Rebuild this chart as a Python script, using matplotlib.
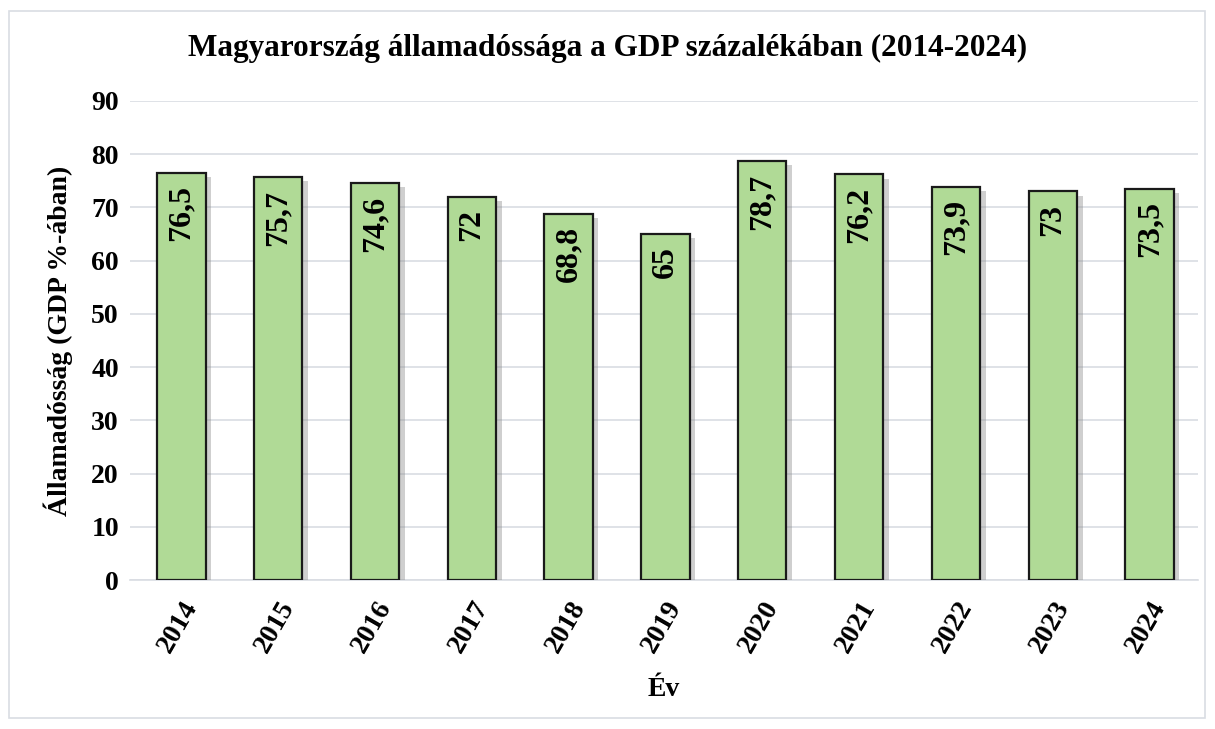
import matplotlib
matplotlib.use("Agg")
import matplotlib.pyplot as plt
import matplotlib.patheffects as pe
from matplotlib.patches import Rectangle

years = ["2014", "2015", "2016", "2017", "2018", "2019", "2020", "2021", "2022", "2023", "2024"]
values = [76.5, 75.7, 74.6, 72, 68.8, 65, 78.7, 76.2, 73.9, 73, 73.5]
value_labels = ["76,5", "75,7", "74,6", "72", "68,8", "65", "78,7", "76,2", "73,9", "73", "73,5"]
yticks = [0, 10, 20, 30, 40, 50, 60, 70, 80, 90]

plt.rcParams['font.family'] = ['Liberation Serif', 'DejaVu Serif']
plt.rcParams['font.weight'] = 'bold'

fig = plt.figure(figsize=(12.15, 7.29), dpi=100)
fig.patches.append(Rectangle((9/1215, 11/729), 1196/1215, 707/729, transform=fig.transFigure,
                             fill=False, edgecolor='#d9dde3', linewidth=1.2))
ax = fig.add_axes([130/1215, 1 - 580/729, 1068/1215, 479/729])

x = list(range(len(years)))
bars = ax.bar(x, values, width=0.5, color='#b0da96', edgecolor='#1a1a1a', linewidth=1.6, zorder=3)
for b in bars:
    b.set_path_effects([pe.SimplePatchShadow(offset=(4, -3), shadow_rgbFace='#888888', alpha=0.4), pe.Normal()])

for xi, v, lab in zip(x, values, value_labels):
    ax.annotate(lab, (xi, v), xytext=(0, -9), textcoords='offset points', rotation=90,
                ha='center', va='top', fontsize=23, fontweight='bold', color='black', zorder=4)

ax.set_xlim(-0.53, 10.5)
ax.set_ylim(0, 90)
ax.set_yticks(yticks)
ax.set_yticklabels([str(t) for t in yticks], fontsize=20, fontweight='bold')
ax.set_xticks(x)
ax.set_xticklabels(years, rotation=60, ha='right', rotation_mode='anchor', fontsize=20, fontweight='bold')
ax.tick_params(axis='both', length=0, pad=8)
ax.tick_params(axis='x', pad=12)
ax.grid(axis='y', color='#d9dde3', linewidth=1.2, zorder=0)
for s in ['top', 'right', 'left']:
    ax.spines[s].set_visible(False)
ax.spines['bottom'].set_color('#d9dde3')
ax.spines['bottom'].set_linewidth(1.2)

ax.set_ylabel('Államadósság (GDP %-ában)', fontsize=20, fontweight='bold', labelpad=13)
ax.set_xlabel('Év', fontsize=20, fontweight='bold', labelpad=14)
fig.text(0.5, 1 - 48/729, 'Magyarország államadóssága a GDP százalékában (2014-2024)', ha='center', va='center',
         fontsize=22.5, fontweight='bold')

fig.savefig('out.png', dpi=100)
